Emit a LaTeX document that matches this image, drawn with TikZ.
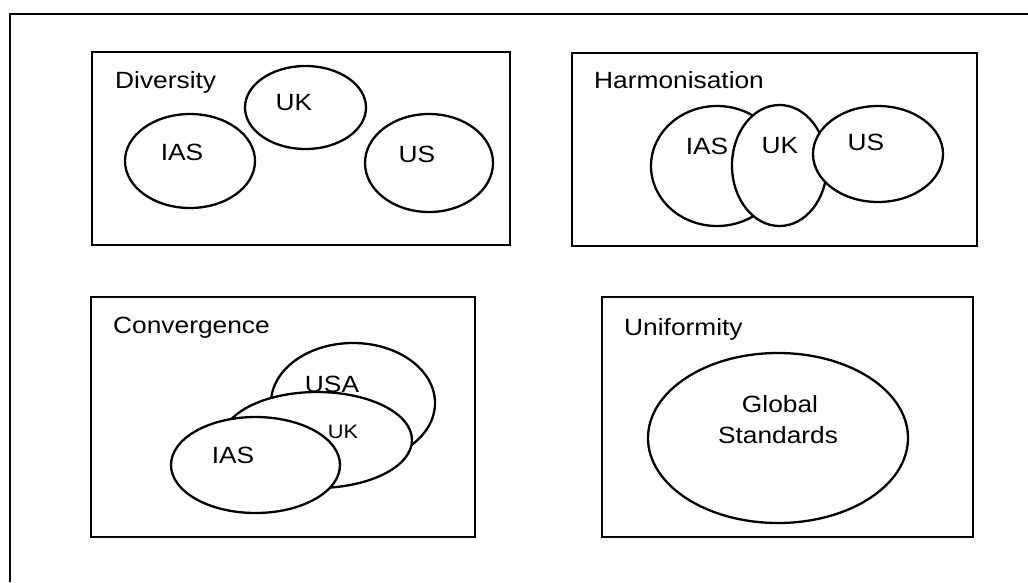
\documentclass[tikz,border=0pt]{standalone}
\usepackage{fontspec}
\setmainfont{Liberation Sans}[FakeStretch=1.12]
\usetikzlibrary{shapes.geometric}
\tikzset{
  panel/.style={draw, line width=2.3pt},
  blob/.style={ellipse, draw, fill=white, line width=2.3pt, inner sep=0pt, outer sep=0pt},
  lbl/.style={inner sep=0pt, anchor=base, font=\fontsize{23.5}{28}\selectfont},
  small/.style={inner sep=0pt, anchor=base, font=\fontsize{19.5}{24}\selectfont},
  head/.style={inner sep=0pt, anchor=base west, font=\fontsize{23.5}{28}\selectfont}
}
\begin{document}
\begin{tikzpicture}[x=1pt, y=-1pt]
\useasboundingbox (0,0) rectangle (1028,582);
% outer frame (only left and top sides visible)
\draw[line width=2.3pt] (10,582) -- (10,14) -- (1028,14);

% Diversity
\draw[panel] (92,52) rectangle (510,245);
\node[head] (hdiv) at (115,88) {Diversity};
\node[blob, minimum width=121pt, minimum height=83pt] (dUK) at (305.5,107.5) {};
\node[blob, minimum width=130pt, minimum height=94pt] (dIAS) at (190,161) {};
\node[blob, minimum width=128pt, minimum height=98pt] (dUS) at (429,163) {};
\node[lbl] (tdUK) at (294,110) {UK};
\node[lbl] (tdIAS) at (182,160) {IAS};
\node[lbl] (tdUS) at (417,162) {US};

% Harmonisation
\draw[panel] (572,53) rectangle (977,246);
\node[head] (hharm) at (594,88) {Harmonisation};
\node[blob, minimum width=132pt, minimum height=120pt] (hIAS) at (717,166) {};
\node[blob, minimum width=95pt, minimum height=121pt] (hUK) at (779.5,165.5) {};
\node[blob, minimum width=130pt, minimum height=96pt] (hUS) at (878,154) {};
\node[lbl] (thIAS) at (707,154) {IAS};
\node[lbl] (thUK) at (780,153) {UK};
\node[lbl] (thUS) at (866,150) {US};

% Convergence
\draw[panel] (91,297) rectangle (475,537);
\node[head] (hconv) at (113,333) {Convergence};
\node[blob, minimum width=164pt, minimum height=120pt] (cUSA) at (353,403) {};
\node[lbl] (tcUSA) at (332,392) {USA};
\node[blob, minimum width=190pt, minimum height=96pt] (cUK) at (317,440) {};
\node[blob, minimum width=169pt, minimum height=96pt] (cIAS) at (255.5,465) {};
\node[small] (tcUK) at (343,438) {UK};
\node[lbl] (tcIAS) at (233,463) {IAS};

% Uniformity
\draw[panel] (602,297) rectangle (973,537);
\node[head] (hunif) at (624,335) {Uniformity};
\node[blob, minimum width=260pt, minimum height=170pt] (uGS) at (778,438) {};
\node[lbl] (tuG) at (780,412) {Global};
\node[lbl] (tuS) at (778,443) {Standards};
\end{tikzpicture}
\end{document}
